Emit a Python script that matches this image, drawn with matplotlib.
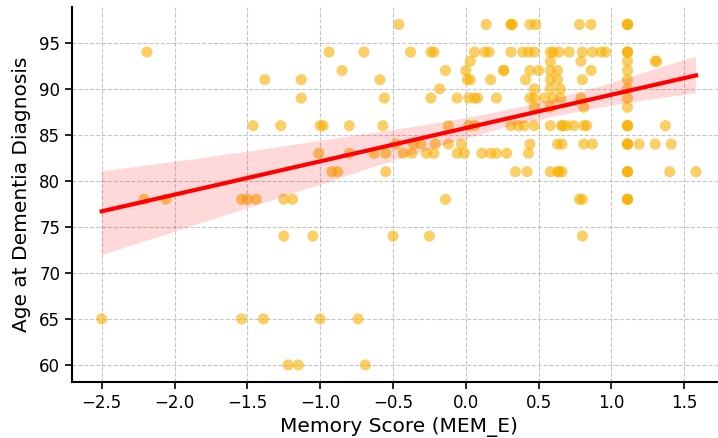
import matplotlib
matplotlib.use("Agg")
import matplotlib.pyplot as plt
import seaborn as sns

# memory composite score (MEM_E) and age at dementia diagnosis, one pair per subject
mem_score = [
    -2.50, -2.19, -2.21, -2.06,
    -1.54, -1.50, -1.44, -1.25, -1.19, -1.54, -1.39, -1.38, -1.46, -1.27,
    -1.25, -1.22, -1.15, -1.13, -1.13, -1.05, -1.00, -1.00, -0.98, -1.01,
    -0.94, -0.92, -0.88, -0.85, -0.80, -0.80, -0.74, -0.70, -0.69, -0.63,
    -0.55, -0.59, -0.57, -0.56, -0.55, -0.50, -0.48, -0.46, -0.43, -0.37,
    -0.38, -0.36, -0.31, -0.27, -0.22, -0.25, -0.24, -0.22, -0.24, -0.21,
    -0.18, -0.14, -0.14, -0.12, -0.12, -0.06, -0.06, -0.01, -0.03,
    0.00, 0.01, 0.03, 0.03, 0.06, 0.02, 0.06, 0.08, 0.02, 0.06,
    0.11, 0.17, 0.21, 0.14, 0.13, 0.16, 0.17, 0.21, 0.26, 0.26, 0.28,
    0.31, 0.31, 0.32, 0.31, 0.31, 0.36, 0.40, 0.47, 0.34, 0.42,
    0.39, 0.43, 0.47, 0.44, 0.48, 0.44, 0.50, 0.41, 0.47, 0.44, 0.47,
    0.47, 0.44, 0.43,
    0.54, 0.60, 0.65, 0.58, 0.60, 0.64, 0.71, 0.58, 0.58, 0.63, 0.58, 0.63,
    0.58, 0.65, 0.58, 0.58, 0.66, 0.66, 0.69, 0.74, 0.63, 0.66, 0.58, 0.63,
    0.64, 0.66,
    0.78, 0.86, 0.80, 0.87, 0.93, 0.96, 0.79, 0.86, 0.80, 0.79, 0.81,
    0.81, 0.83, 0.81, 0.87, 0.78, 0.80, 0.80,
    1.11, 1.11, 1.11, 1.11, 1.11, 1.11, 1.11, 1.11, 1.11, 1.11, 1.11,
    1.11, 1.11, 1.11, 1.11, 1.11, 1.11, 1.11, 1.11, 1.11, 1.11, 1.11,
    1.11, 1.11,
    1.19, 1.30, 1.41, 1.30, 1.31, 1.37, 1.40, 1.58,
]
age_dx = [
    65, 94, 78, 78,
    78, 78, 78, 78, 78, 65, 65, 91, 86, 86,
    74, 60, 60, 91, 89, 74, 65, 86, 86, 83,
    94, 81, 81, 92, 86, 83, 65, 94, 60, 83,
    83, 91, 86, 89, 81, 74, 84, 97, 83, 83,
    94, 84, 84, 83, 83, 74, 94, 94, 89, 84,
    90, 92, 78, 86, 84, 89, 83, 83, 84,
    92, 91, 91, 93, 94, 89, 89, 89, 86, 86,
    83, 83, 83, 97, 94, 94, 91, 89, 92, 92, 83,
    86, 97, 97, 97, 94, 86, 86, 86, 81, 81,
    94, 94, 94, 97, 97, 92, 92, 91, 90, 89, 89,
    88, 84, 83,
    89, 89, 89, 94, 94, 94, 94, 93, 92, 92, 91, 91,
    90, 90, 88, 86, 86, 86, 86, 86, 84, 84, 81, 81,
    81, 81,
    97, 97, 94, 94, 94, 94, 93, 92, 91, 89, 88,
    86, 86, 84, 84, 78, 78, 74,
    97, 97, 94, 94, 93, 92, 91, 90, 89, 88, 86,
    86, 86, 84, 84, 84, 81, 81, 81, 78, 78, 78,
    97, 94,
    84, 84, 84, 93, 93, 86, 81, 81,
]

fig = plt.figure(figsize=(7.18, 4.38), dpi=100)
ax = fig.add_axes([0.1003, 0.128, 0.9104, 0.855])

sns.regplot(
    x=mem_score,
    y=age_dx,
    ax=ax,
    seed=0,
    scatter_kws={"color": "#F8B000", "alpha": 0.6, "s": 64, "edgecolor": "none"},
    line_kws={"color": "red", "linewidth": 3},
)

ax.grid(True, linestyle="--", color="gray", alpha=0.45, linewidth=0.8)
ax.set_axisbelow(True)
for side in ["top", "right"]:
    ax.spines[side].set_visible(False)
for side in ["left", "bottom"]:
    ax.spines[side].set_linewidth(1.5)
ax.tick_params(labelsize=12, length=5, width=1.2)

ax.set_xlabel("Memory Score (MEM_E)", fontsize=14.5)
ax.set_ylabel("Age at Dementia Diagnosis", fontsize=14.5, labelpad=6)

fig.savefig("out.png", dpi=100)
